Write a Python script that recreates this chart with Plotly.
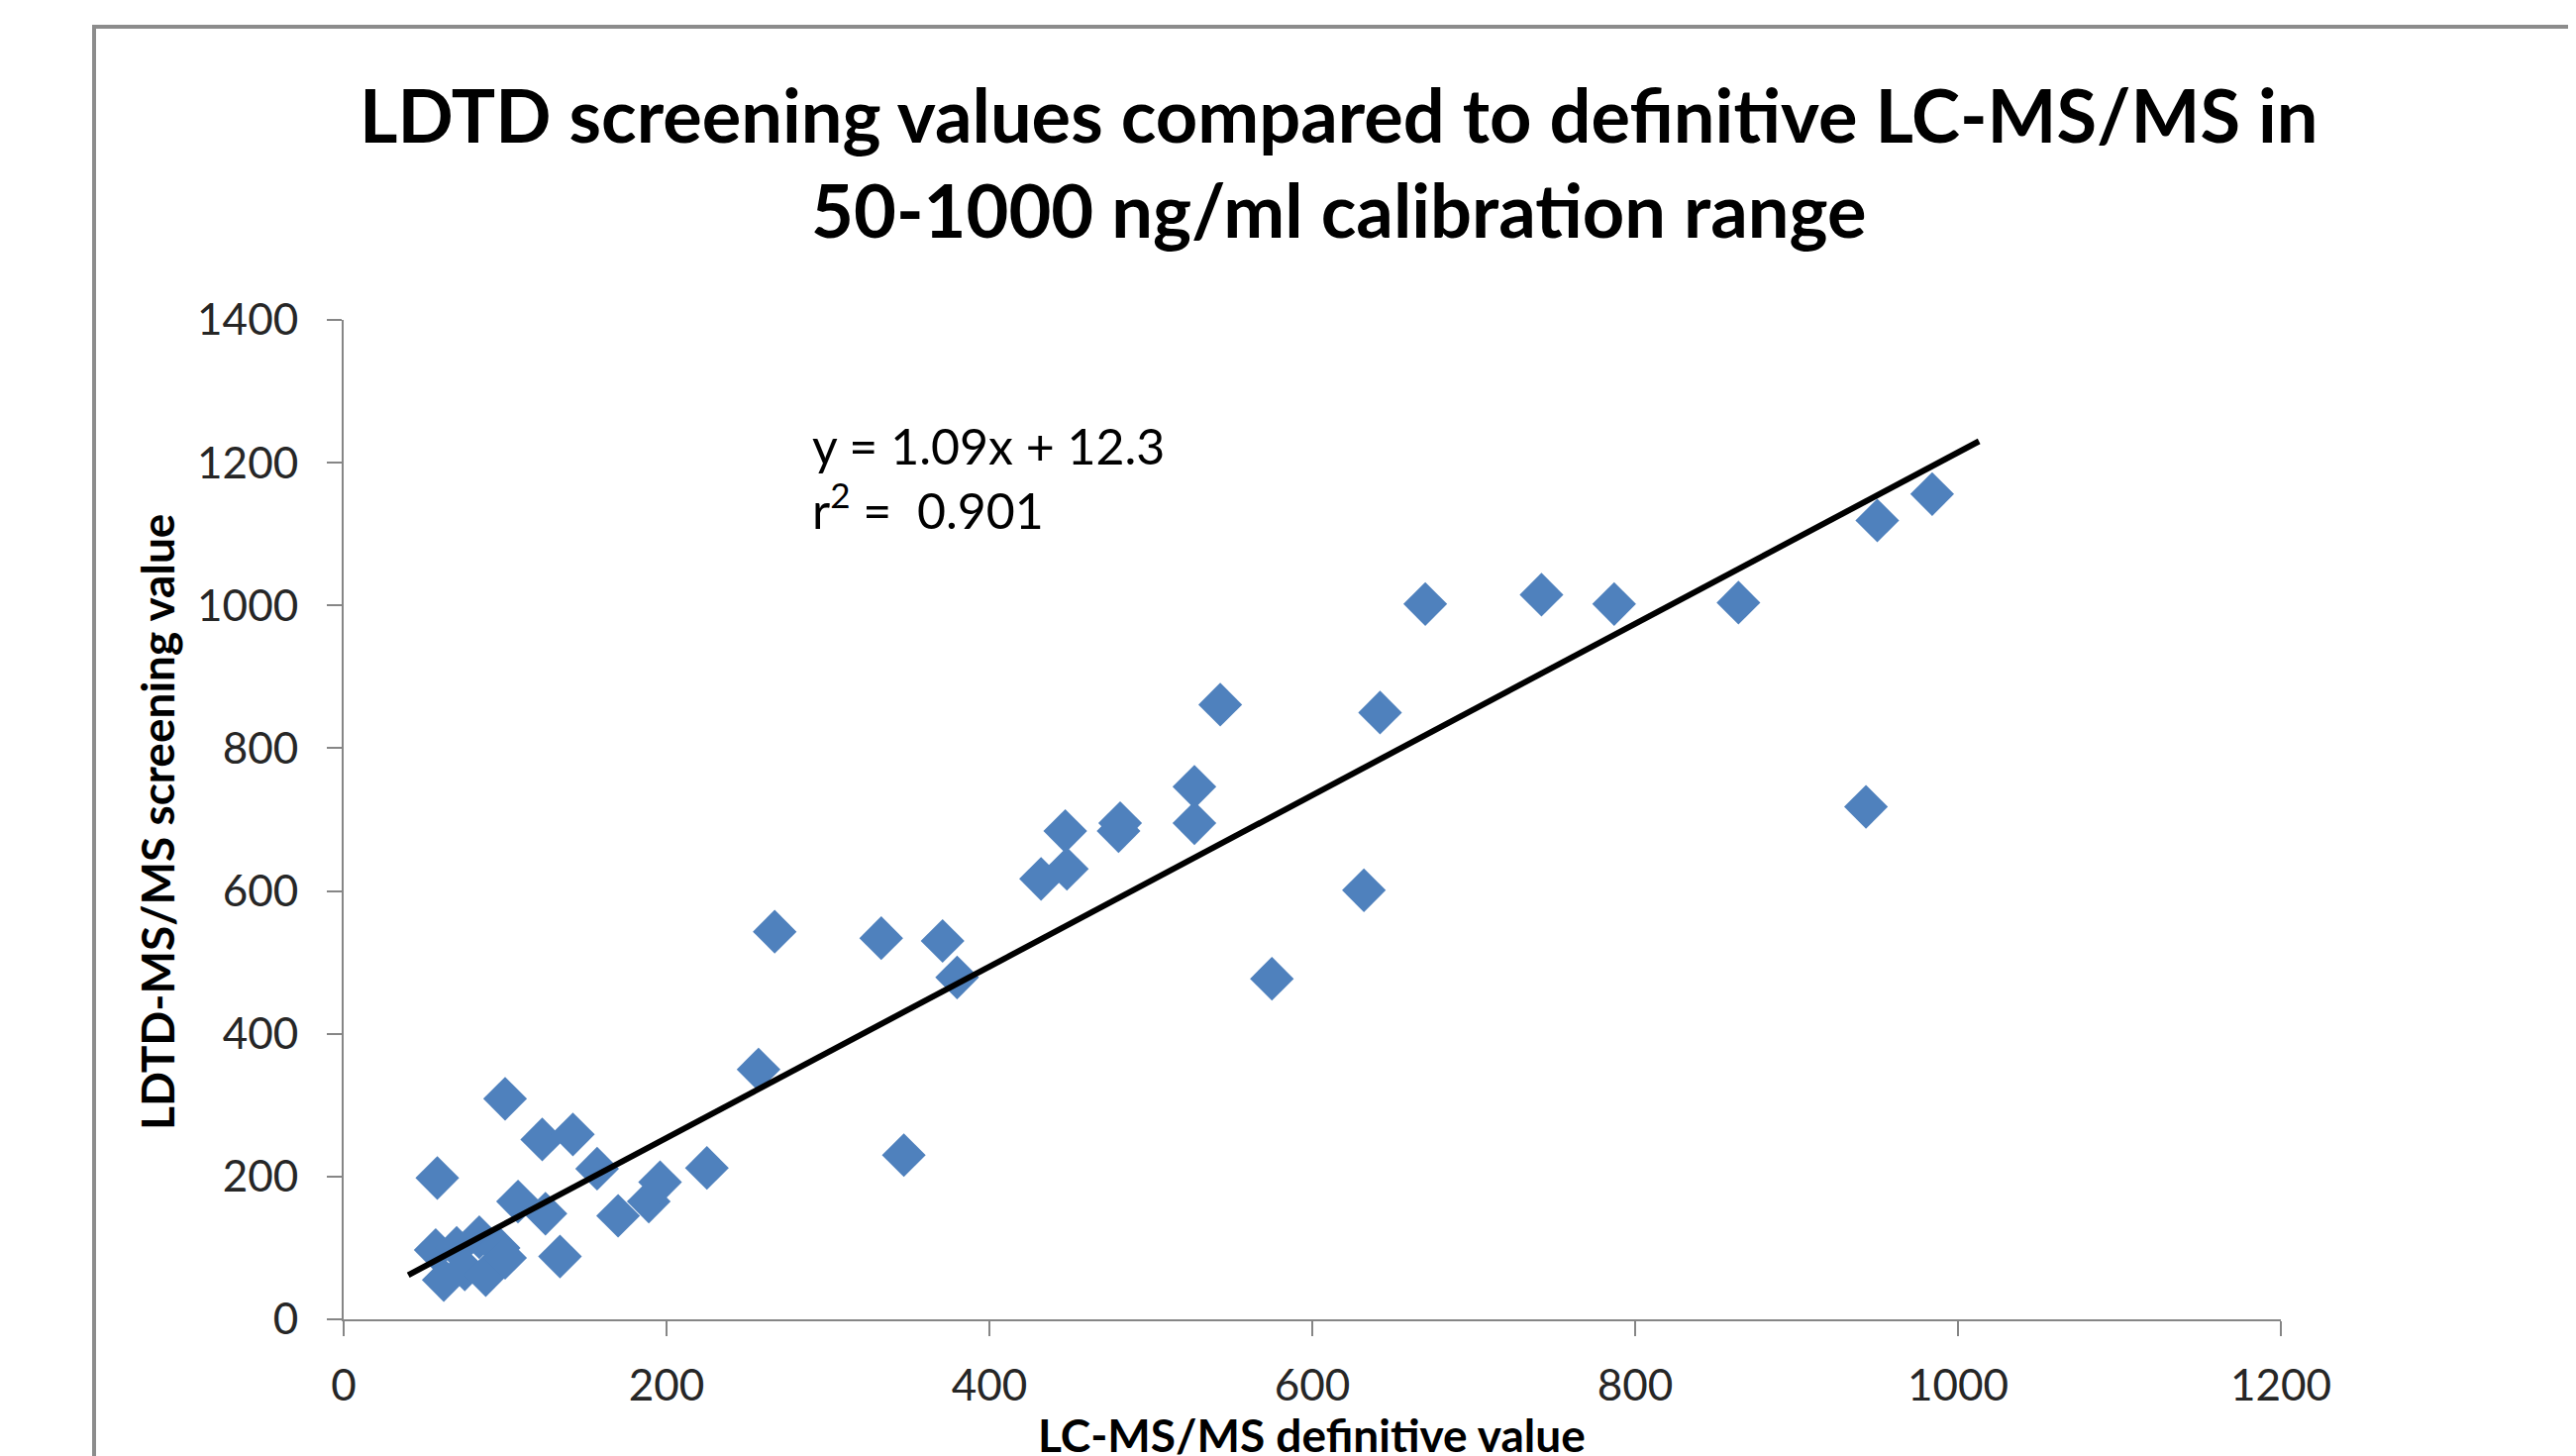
import plotly.graph_objects as go

# Data
lcms_definitive = [57, 62, 70, 75, 84, 88, 96, 100,
                   58, 100, 123, 142, 157, 108, 125, 134, 170, 189, 196, 225,
                   257, 267, 333, 371, 380, 347, 432, 448, 447, 480, 481,
                   527, 527, 543, 575, 632, 642, 670, 742, 787, 864, 943, 950, 984]
ldtd_screening = [97, 55, 100, 70, 115, 62, 100, 86,
                  198, 309, 252, 259, 211, 165, 148, 88, 145, 165, 192, 212,
                  350, 543, 534, 530, 479, 230, 617, 631, 684, 684, 695,
                  746, 695, 861, 477, 601, 850, 1002, 1015, 1002, 1004, 718, 1119, 1156]

# Trend line endpoints as drawn in the reference
trend_x = [40, 1013]
trend_y = [62, 1230]

x_ticks = [0, 200, 400, 600, 800, 1000, 1200]
y_ticks = [0, 200, 400, 600, 800, 1000, 1200, 1400]

title_text = "LDTD screening values compared to definitive LC-MS/MS in<br>50-1000 ng/ml calibration range"
eq_text = "y = 1.09x + 12.3<br>r<sup>2</sup> =  0.901"

FONT = "Lato"
W, H = 2601, 1470
OFF = 8  # page body margin offset
ML, MR, MT, MB = 339, 306, 315, 146

fig = go.Figure()
fig.add_trace(go.Scatter(
    x=lcms_definitive, y=ldtd_screening, mode="markers",
    marker=dict(symbol="diamond", size=34, color="#4F81BD", line=dict(width=0)),
    showlegend=False, hoverinfo="x+y"))
fig.add_trace(go.Scatter(
    x=trend_x, y=trend_y, mode="lines",
    line=dict(color="black", width=6), showlegend=False))

axis_common = dict(
    showgrid=False, zeroline=False, showline=True, linecolor="#868686", linewidth=2,
    ticks="outside", ticklen=15, tickwidth=2, tickcolor="#868686",
    tickfont=dict(family=FONT, size=44, color="#262626"))

fig.update_xaxes(range=[0, 1200], tickvals=x_ticks, ticktext=[str(v) for v in x_ticks],
                 ticklabelstandoff=12, **axis_common)
fig.update_yaxes(range=[0, 1400], tickvals=y_ticks, ticktext=[str(v) for v in y_ticks],
                 ticklabelstandoff=20, **axis_common)

def px_x(p):
    return (p - OFF - ML) / (W - ML - MR)

def px_y(p):
    return (H - MB - (p - OFF)) / (H - MT - MB)

fig.update_layout(
    width=W, height=H,
    margin=dict(l=ML, r=MR, t=MT, b=MB),
    plot_bgcolor="white", paper_bgcolor="white",
    shapes=[dict(type="rect", xref="paper", yref="paper",
                 x0=px_x(95), x1=px_x(2700), y0=px_y(1600), y1=px_y(27),
                 line=dict(color="#8c8c8c", width=4), fillcolor="rgba(0,0,0,0)", layer="below")],
    annotations=[
        dict(text=title_text, xref="paper", yref="paper", x=px_x(1352), y=px_y(164),
             xanchor="center", yanchor="middle", showarrow=False,
             font=dict(family=FONT, size=74, color="black", weight="bold")),
        dict(text=eq_text, xref="paper", yref="paper", x=px_x(818), y=px_y(482),
             xanchor="left", yanchor="middle", showarrow=False, align="left",
             font=dict(family=FONT, size=50, color="black")),
        dict(text="LDTD-MS/MS screening value", xref="paper", yref="paper",
             x=px_x(158), y=px_y(830), xanchor="center", yanchor="middle",
             textangle=-90, showarrow=False,
             font=dict(family=FONT, size=46, color="black", weight="bold")),
        dict(text="LC-MS/MS definitive value", xref="paper", yref="paper",
             x=px_x(1324), y=px_y(1448), xanchor="center", yanchor="middle",
             showarrow=False,
             font=dict(family=FONT, size=46, color="black", weight="bold")),
    ],
)

fig.write_html("out.html")
